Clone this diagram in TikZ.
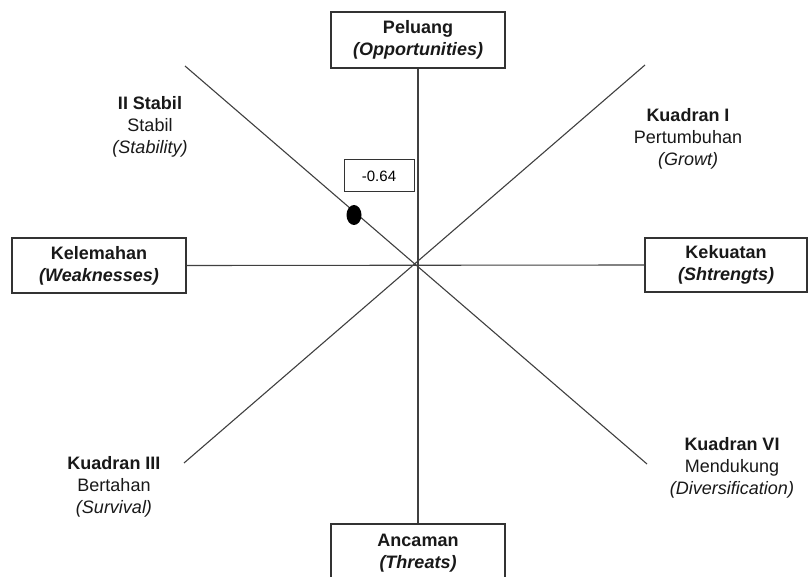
\documentclass[tikz,border=0pt]{standalone}
\usepackage{fontspec}
\setmainfont{Liberation Sans}
\begin{document}
\begin{tikzpicture}[x=1pt,y=-1pt,
  box/.style={draw=black!80,line width=1.2pt,fill=white,inner sep=0pt},
  axis/.style={draw=black!75,line width=1.1pt},
  lbl/.style={align=center,font=\fontsize{18}{22}\selectfont,text=black!90},
  qlbl/.style={align=center,font=\fontsize{18}{22}\selectfont,text=black!90}]
\useasboundingbox (0,0) rectangle (808,577);
\clip (0,0) rectangle (808,577);
\fill[white] (0,0) rectangle (808,577);
\coordinate (c) at (416,265);
\coordinate (ul) at (185,66);
\coordinate (ur) at (645,65);
\coordinate (ll) at (184,463);
\coordinate (lr) at (647,464);
% boxes
\node[box,minimum width=174pt,minimum height=56pt] (top) at (418,40) {};
\node[box,minimum width=174pt,minimum height=55pt] (left) at (99,265.5) {};
\node[box,minimum width=162pt,minimum height=54pt] (right) at (726,265) {};
\node[box,minimum width=174pt,minimum height=60pt] (bot) at (418,554) {};
\node[lbl] (toptxt) at (418,40) {\textbf{Peluang}\\\textbf{\textit{(Opportunities)}}};
\node[lbl] (lefttxt) at (99,265.5) {\textbf{Kelemahan}\\\textbf{\textit{(Weaknesses)}}};
\node[lbl] (righttxt) at (726,265) {\textbf{Kekuatan}\\\textbf{\textit{(Shtrengts)}}};
\node[lbl] (bottxt) at (418,553) {\textbf{Ancaman}\\\textbf{\textit{(Threats)}}};
% axes
\draw[axis] (top.south) -- (bot.north);
\draw[axis] (left.east) -- (right.west);
\draw[axis] (ul) -- (lr);
\draw[axis] (ur) -- (ll);
% quadrant labels
\node[qlbl] (q2) at (150,127) {\textbf{II Stabil}\\Stabil\\\textit{(Stability)}};
\node[qlbl] (q1) at (688,139) {\textbf{Kuadran I}\\Pertumbuhan\\\textit{(Growt)}};
\node[qlbl] (q3) at (114,487) {\textbf{Kuadran III}\\Bertahan\\\textit{(Survival)}};
\node[qlbl] (q6) at (732,468) {\textbf{Kuadran VI}\\Mendukung\\\textit{(Diversification)}};
% point and value
\fill[black] (354,215) ellipse (7.5pt and 10pt);
\node[box,line width=1pt,minimum width=70pt,minimum height=32pt,font=\fontsize{15}{18}\selectfont] (val) at (379,176) {-0.64};
\end{tikzpicture}
\end{document}
